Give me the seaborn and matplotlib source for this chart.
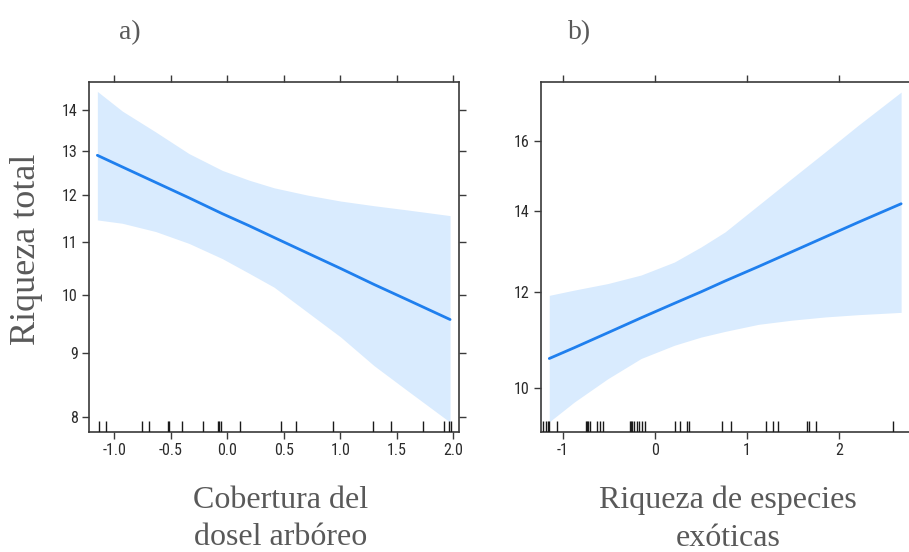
import numpy as np
import pandas as pd
import matplotlib
matplotlib.use("Agg")
import matplotlib.pyplot as plt
import matplotlib.ticker as mticker
import seaborn as sns

# ---- data ----
# panel a) Cobertura del dosel arbóreo
a_x = [-1.150, -0.929, -0.634, -0.339, -0.044, 0.192, 0.413, 0.708, 1.003,
       1.298, 1.593, 1.971]
a_fit = [12.89, 12.62, 12.27, 11.93, 11.59, 11.34, 11.10, 10.79, 10.49,
         10.19, 9.91, 9.56]
a_upper = [14.48, 13.97, 13.45, 12.93, 12.54, 12.32, 12.15, 11.99, 11.86,
           11.76, 11.67, 11.55]
a_lower = [11.46, 11.39, 11.22, 10.98, 10.68, 10.40, 10.14, 9.69, 9.26,
           8.79, 8.40, 7.93]
a_rug = [-1.135, -1.073, -0.755, -0.696, -0.528, -0.516, -0.398, -0.212,
         -0.082, -0.071, -0.056, 0.112, 0.472, 0.605, 0.938, 1.292, 1.449,
         1.735, 1.918, 1.965, 1.977]
a_xticks = [-1.0, -0.5, 0.0, 0.5, 1.0, 1.5, 2.0]
a_xticklabels = ["-1.0", "-0.5", "0.0", "0.5", "1.0", "1.5", "2.0"]
a_yticks = [8, 9, 10, 11, 12, 13, 14]

# panel b) Riqueza de especies exóticas
b_x = [-1.149, -0.877, -0.514, -0.152, 0.210, 0.500, 0.761, 1.123, 1.486,
       1.848, 2.210, 2.674]
b_fit = [10.58, 10.80, 11.11, 11.43, 11.75, 12.01, 12.26, 12.60, 12.96,
         13.33, 13.71, 14.20]
b_upper = [11.93, 12.05, 12.20, 12.40, 12.71, 13.08, 13.46, 14.16, 14.90,
           15.67, 16.49, 17.56]
b_lower = [9.38, 9.74, 10.18, 10.58, 10.85, 11.02, 11.14, 11.29, 11.38,
           11.45, 11.50, 11.55]
b_rug = [-1.214, -1.185, -1.167, -1.149, -1.069, -0.754, -0.743, -0.725,
         -0.707, -0.627, -0.598, -0.569, -0.272, -0.261, -0.246, -0.228,
         -0.199, -0.174, -0.145, -0.109, 0.217, 0.272, 0.344, 0.366, 0.732,
         0.830, 1.207, 1.279, 1.333, 1.649, 1.678, 1.750, 2.591]
b_xticks = [-1, 0, 1, 2]
b_xticklabels = ["-1", "0", "1", "2"]
b_yticks = [10, 12, 14, 16]

panel_titles = ["a)", "b)"]
ylabel = "Riqueza total"
xlabels = ["Cobertura del\ndosel arbóreo", "Riqueza de especies\nexóticas"]

# ---- style ----
sns.set_style("white")
LINE = "#1f7fee"
BAND = "#d9ebfe"
TXT = "#595959"
TICKTXT = "#2b2b2b"
tick_font = ["Roboto Condensed", "Liberation Sans Narrow", "DejaVu Sans"]
serif = ["Liberation Serif", "DejaVu Serif"]

fig = plt.figure(figsize=(9.09, 5.52), dpi=100)
ax_a = fig.add_axes([89 / 909, 120 / 552, 370 / 909, 350 / 552])
ax_b = fig.add_axes([541 / 909, 120 / 552, 380 / 909, 350 / 552])

panels = [
    (ax_a, a_x, a_fit, a_upper, a_lower, a_rug, a_xticks, a_xticklabels,
     a_yticks, (-1.224, 2.05), (7.79, 14.73)),
    (ax_b, b_x, b_fit, b_upper, b_lower, b_rug, b_xticks, b_xticklabels,
     b_yticks, (-1.239, 2.89), (9.20, 17.90)),
]

for (ax, x, fit, up, lo, rug, xt, xtl, yt, xlim, ylim) in panels:
    df = pd.DataFrame({"x": x, "fit": fit, "upper": up, "lower": lo})
    ax.fill_between(df["x"], df["lower"], df["upper"], color=BAND, lw=0,
                    zorder=1)
    sns.lineplot(data=df, x="x", y="fit", ax=ax, color=LINE, lw=2.0,
                 zorder=3)
    sns.rugplot(x=rug, ax=ax, height=0.032, color="#1a1a1a", lw=1.0,
                expand_margins=False, zorder=4)
    ax.set_yscale("log")
    ax.set_xlim(*xlim)
    ax.set_ylim(*ylim)
    ax.yaxis.set_major_locator(mticker.FixedLocator(yt))
    ax.yaxis.set_major_formatter(mticker.FixedFormatter([str(v) for v in yt]))
    ax.yaxis.set_minor_locator(mticker.NullLocator())
    ax.set_xticks(xt)
    ax.set_xticklabels(xtl)
    ax.set_xlabel("")
    ax.set_ylabel("")
    for s in ax.spines.values():
        s.set_color("#3a3a3a")
        s.set_linewidth(1.2)
        s.set_visible(True)
    ax.tick_params(axis="both", which="major", direction="out", length=5,
                   width=1.0, color="#3a3a3a", labelcolor=TICKTXT,
                   labelsize=11.5, top=True, right=True, bottom=True,
                   left=True, labeltop=False, labelright=False, pad=3)
    for lab in ax.get_xticklabels() + ax.get_yticklabels():
        lab.set_family(tick_font)
    ax.set_facecolor("white")

# panel titles
fig.text(130 / 909, 1 - 33 / 552, panel_titles[0], ha="center", va="center",
         fontsize=20, color=TXT, family=serif)
fig.text(580 / 909, 1 - 33 / 552, panel_titles[1], ha="center", va="center",
         fontsize=20, color=TXT, family=serif)

# y label
fig.text(27 / 909, 1 - 249 / 552, ylabel, rotation=90, ha="center",
         va="center", fontsize=26, color=TXT, family=serif)

# x labels
fig.text(281 / 909, 1 - 519 / 552, xlabels[0], ha="center", va="center",
         fontsize=23, color=TXT, linespacing=1.4, family=serif)
fig.text(728 / 909, 1 - 519 / 552, xlabels[1], ha="center", va="center",
         fontsize=23, color=TXT, linespacing=1.4, family=serif)

fig.savefig("out.png", dpi=100)
